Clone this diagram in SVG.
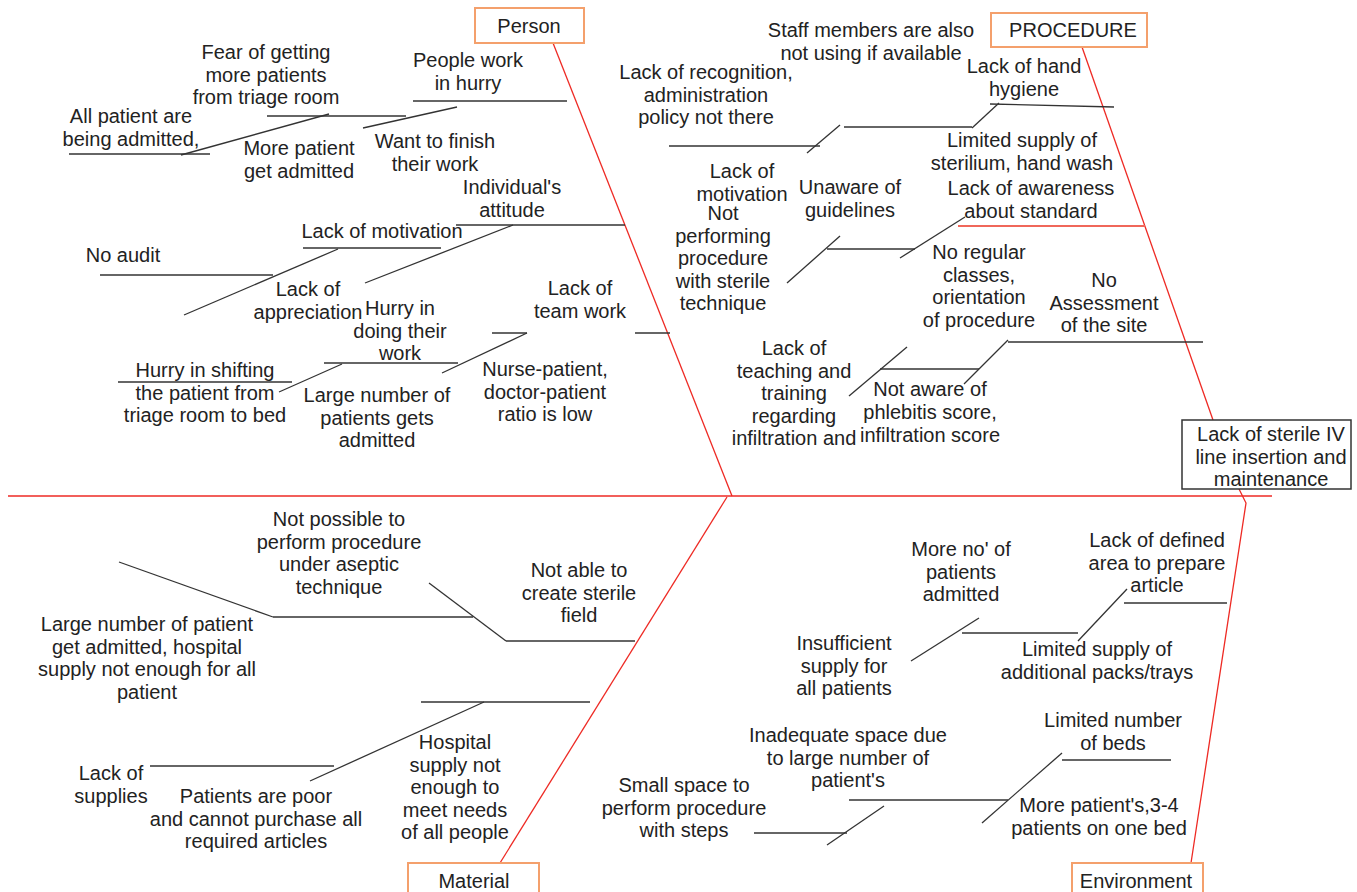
<svg xmlns="http://www.w3.org/2000/svg" width="1357" height="892" viewBox="0 0 1357 892">
<style>
.t{font-family:"Liberation Sans",Arial,sans-serif;font-size:20px;fill:#222;text-anchor:middle}
.b{stroke:#333;stroke-width:1.3;fill:none}
.r{stroke:#ee2a24;stroke-width:1.3;fill:none}
.r2{stroke:#f0675a;stroke-width:2;fill:none}
.cat{fill:#fff;stroke:#f4a06c;stroke-width:2}
.head{fill:#fff;stroke:#333;stroke-width:1.5}
</style>
<rect width="1357" height="892" fill="#fff"/>
<g id="connectors">
<line class="r" x1="8" y1="496" x2="1272" y2="496"/>
<line class="r" x1="553" y1="43" x2="732" y2="496"/>
<line class="r" x1="1082" y1="47" x2="1213" y2="420"/>
<line class="r" x1="727" y1="497" x2="500" y2="863"/>
<polyline class="r" points="1239,489 1246,503 1191,863"/>
<line class="b" x1="413" y1="101" x2="567" y2="101"/>
<line class="b" x1="267" y1="116" x2="406" y2="116"/>
<line class="b" x1="363" y1="128" x2="457" y2="107"/>
<line class="b" x1="69" y1="154" x2="210" y2="154"/>
<line class="b" x1="181" y1="155" x2="329" y2="114"/>
<line class="b" x1="456" y1="225" x2="625" y2="225"/>
<line class="b" x1="303" y1="248" x2="441" y2="248"/>
<line class="b" x1="513" y1="225" x2="365" y2="283"/>
<line class="b" x1="100" y1="275" x2="273" y2="275"/>
<line class="b" x1="338" y1="249" x2="184" y2="315"/>
<line class="b" x1="635" y1="333" x2="670" y2="333"/>
<line class="b" x1="492" y1="333" x2="527" y2="333"/>
<line class="b" x1="527" y1="333" x2="442" y2="373"/>
<line class="b" x1="324" y1="363" x2="458" y2="363"/>
<line class="b" x1="118" y1="382" x2="292" y2="382"/>
<line class="b" x1="342" y1="364" x2="279" y2="392"/>
<line class="b" x1="990" y1="104" x2="1114" y2="107"/>
<line class="b" x1="999" y1="103" x2="972" y2="128"/>
<line class="b" x1="844" y1="127" x2="972" y2="127"/>
<line class="b" x1="840" y1="125" x2="807" y2="153"/>
<line class="b" x1="669" y1="146" x2="820" y2="146"/>
<line class="r2" x1="958" y1="226" x2="1145" y2="226"/>
<line class="b" x1="965" y1="217" x2="900" y2="258"/>
<line class="b" x1="827" y1="249" x2="915" y2="249"/>
<line class="b" x1="840" y1="236" x2="787" y2="283"/>
<line class="b" x1="1008" y1="342" x2="1203" y2="342"/>
<line class="b" x1="1008" y1="340" x2="964" y2="384"/>
<line class="b" x1="880" y1="369" x2="979" y2="369"/>
<line class="b" x1="907" y1="347" x2="849" y2="396"/>
<line class="b" x1="119" y1="562" x2="273" y2="617"/>
<line class="b" x1="273" y1="617" x2="473" y2="617"/>
<line class="b" x1="429" y1="583" x2="506" y2="641"/>
<line class="b" x1="506" y1="641" x2="635" y2="641"/>
<line class="b" x1="421" y1="702" x2="590" y2="702"/>
<line class="b" x1="484" y1="702" x2="310" y2="781"/>
<line class="b" x1="150" y1="766" x2="334" y2="766"/>
<line class="b" x1="1124" y1="603" x2="1227" y2="603"/>
<line class="b" x1="1127" y1="589" x2="1078" y2="641"/>
<line class="b" x1="962" y1="633" x2="1078" y2="633"/>
<line class="b" x1="979" y1="618" x2="911" y2="661"/>
<line class="b" x1="1062" y1="760" x2="1171" y2="760"/>
<line class="b" x1="1062" y1="753" x2="982" y2="823"/>
<line class="b" x1="849" y1="800" x2="1008" y2="800"/>
<line class="b" x1="884" y1="806" x2="827" y2="845"/>
<line class="b" x1="754" y1="833" x2="847" y2="833"/>
</g>
<g id="head"><rect class="head" x="1182" y="420" width="169" height="69"/><text class="t" x="1271" y="441">Lack of sterile IV<tspan x="1271" dy="22.5">line insertion and</tspan><tspan x="1271" dy="22.5">maintenance</tspan></text></g>
<g id="cat-person"><rect class="cat" x="475" y="8" width="109" height="35"/><text class="t" x="529" y="33">Person</text></g>
<g id="cat-procedure"><rect class="cat" x="991" y="13" width="156" height="34"/><text class="t" x="1073" y="37">PROCEDURE</text></g>
<g id="cat-material"><rect class="cat" x="408" y="863" width="131" height="40"/><text class="t" x="474" y="888">Material</text></g>
<g id="cat-environment"><rect class="cat" x="1072" y="863" width="131" height="40"/><text class="t" x="1136" y="888">Environment</text></g>
<g id="person-causes">
<g id="p1"><text class="t" x="266" y="59">Fear of getting<tspan x="266" dy="22.5">more patients</tspan><tspan x="266" dy="22.5">from triage room</tspan></text></g>
<g id="p2"><text class="t" x="468" y="67">People work<tspan x="468" dy="22.5">in hurry</tspan></text></g>
<g id="p3"><text class="t" x="131" y="123">All patient are<tspan x="131" dy="22.5">being admitted,</tspan></text></g>
<g id="p4"><text class="t" x="299" y="155">More patient<tspan x="299" dy="22.5">get admitted</tspan></text></g>
<g id="p5"><text class="t" x="435" y="148">Want to finish<tspan x="435" dy="22.5">their work</tspan></text></g>
<g id="p6"><text class="t" x="512" y="194">Individual's<tspan x="512" dy="22.5">attitude</tspan></text></g>
<g id="p7"><text class="t" x="382" y="238">Lack of motivation</text></g>
<g id="p8"><text class="t" x="123" y="262">No audit</text></g>
<g id="p9"><text class="t" x="308" y="296">Lack of<tspan x="308" dy="22.5">appreciation</tspan></text></g>
<g id="p10"><text class="t" x="400" y="315">Hurry in<tspan x="400" dy="22.5">doing their</tspan><tspan x="400" dy="22.5">work</tspan></text></g>
<g id="p11"><text class="t" x="580" y="295">Lack of<tspan x="580" dy="22.5">team work</tspan></text></g>
<g id="p12"><text class="t" x="205" y="377">Hurry in shifting<tspan x="205" dy="22.5">the patient from</tspan><tspan x="205" dy="22.5">triage room to bed</tspan></text></g>
<g id="p13"><text class="t" x="377" y="402">Large number of<tspan x="377" dy="22.5">patients gets</tspan><tspan x="377" dy="22.5">admitted</tspan></text></g>
<g id="p14"><text class="t" x="545" y="376">Nurse-patient,<tspan x="545" dy="22.5">doctor-patient</tspan><tspan x="545" dy="22.5">ratio is low</tspan></text></g>
</g>
<g id="procedure-causes">
<g id="r1"><text class="t" x="871" y="37">Staff members are also<tspan x="871" dy="22.5">not using if available</tspan></text></g>
<g id="r2"><text class="t" x="706" y="79">Lack of recognition,<tspan x="706" dy="22.5">administration</tspan><tspan x="706" dy="22.5">policy not there</tspan></text></g>
<g id="r3"><text class="t" x="1024" y="73">Lack of hand<tspan x="1024" dy="22.5">hygiene</tspan></text></g>
<g id="r4"><text class="t" x="1022" y="147">Limited supply of<tspan x="1022" dy="22.5">sterilium, hand wash</tspan></text></g>
<g id="r5"><text class="t" x="742" y="178">Lack of<tspan x="742" dy="22.5">motivation</tspan></text></g>
<g id="r6"><text class="t" x="850" y="194">Unaware of<tspan x="850" dy="22.5">guidelines</tspan></text></g>
<g id="r7"><text class="t" x="723" y="220">Not<tspan x="723" dy="22.5">performing</tspan><tspan x="723" dy="22.5">procedure</tspan><tspan x="723" dy="22.5">with sterile</tspan><tspan x="723" dy="22.5">technique</tspan></text></g>
<g id="r8"><text class="t" x="1031" y="195">Lack of awareness<tspan x="1031" dy="22.5">about standard</tspan></text></g>
<g id="r9"><text class="t" x="979" y="259">No regular<tspan x="979" dy="22.5">classes,</tspan><tspan x="979" dy="22.5">orientation</tspan><tspan x="979" dy="22.5">of procedure</tspan></text></g>
<g id="r10"><text class="t" x="1104" y="287">No<tspan x="1104" dy="22.5">Assessment</tspan><tspan x="1104" dy="22.5">of the site</tspan></text></g>
<g id="r11"><text class="t" x="794" y="355">Lack of<tspan x="794" dy="22.5">teaching and</tspan><tspan x="794" dy="22.5">training</tspan><tspan x="794" dy="22.5">regarding</tspan><tspan x="794" dy="22.5">infiltration and</tspan></text></g>
<g id="r12"><text class="t" x="930" y="396">Not aware of<tspan x="930" dy="23">phlebitis score,</tspan><tspan x="930" dy="23">infiltration score</tspan></text></g>
</g>
<g id="material-causes">
<g id="m1"><text class="t" x="339" y="526">Not possible to<tspan x="339" dy="22.5">perform procedure</tspan><tspan x="339" dy="22.5">under aseptic</tspan><tspan x="339" dy="22.5">technique</tspan></text></g>
<g id="m2"><text class="t" x="579" y="577">Not able to<tspan x="579" dy="22.5">create sterile</tspan><tspan x="579" dy="22.5">field</tspan></text></g>
<g id="m3"><text class="t" x="147" y="631">Large number of patient<tspan x="147" dy="22.5">get admitted, hospital</tspan><tspan x="147" dy="22.5">supply not enough for all</tspan><tspan x="147" dy="22.5">patient</tspan></text></g>
<g id="m4"><text class="t" x="111" y="780">Lack of<tspan x="111" dy="22.5">supplies</tspan></text></g>
<g id="m5"><text class="t" x="256" y="803">Patients are poor<tspan x="256" dy="22.5">and cannot purchase all</tspan><tspan x="256" dy="22.5">required articles</tspan></text></g>
<g id="m6"><text class="t" x="455" y="749">Hospital<tspan x="455" dy="22.5">supply not</tspan><tspan x="455" dy="22.5">enough to</tspan><tspan x="455" dy="22.5">meet needs</tspan><tspan x="455" dy="22.5">of all people</tspan></text></g>
</g>
<g id="environment-causes">
<g id="e1"><text class="t" x="961" y="556">More no' of<tspan x="961" dy="22.5">patients</tspan><tspan x="961" dy="22.5">admitted</tspan></text></g>
<g id="e2"><text class="t" x="1157" y="547">Lack of defined<tspan x="1157" dy="22.5">area to prepare</tspan><tspan x="1157" dy="22.5">article</tspan></text></g>
<g id="e3"><text class="t" x="844" y="650">Insufficient<tspan x="844" dy="22.5">supply for</tspan><tspan x="844" dy="22.5">all patients</tspan></text></g>
<g id="e4"><text class="t" x="1097" y="656">Limited supply of<tspan x="1097" dy="22.5">additional packs/trays</tspan></text></g>
<g id="e5"><text class="t" x="1113" y="727">Limited number<tspan x="1113" dy="22.5">of beds</tspan></text></g>
<g id="e6"><text class="t" x="848" y="742">Inadequate space due<tspan x="848" dy="22.5">to large number of</tspan><tspan x="848" dy="22.5">patient's</tspan></text></g>
<g id="e7"><text class="t" x="684" y="792">Small space to<tspan x="684" dy="22.5">perform procedure</tspan><tspan x="684" dy="22.5">with steps</tspan></text></g>
<g id="e8"><text class="t" x="1099" y="812">More patient's,3-4<tspan x="1099" dy="22.5">patients on one bed</tspan></text></g>
</g>
</svg>
